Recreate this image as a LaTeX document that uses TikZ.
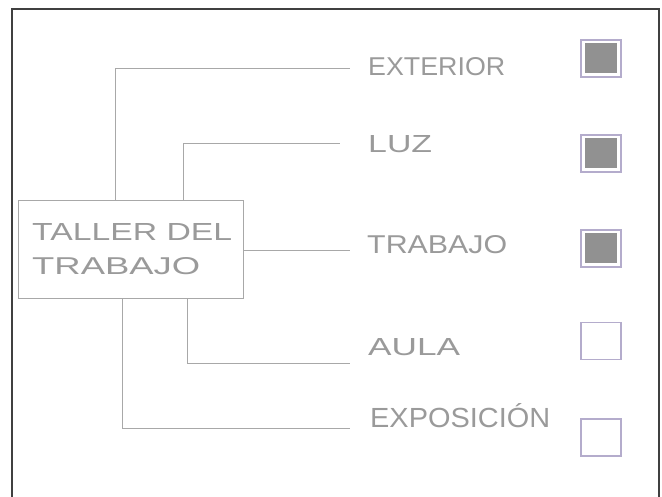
\documentclass[tikz,border=0pt]{standalone}
\usepackage{graphicx}
\usepackage{fontspec}
\setmainfont{Liberation Sans}
\definecolor{frame}{HTML}{404040}
\definecolor{wire}{HTML}{A8A8A8}
\definecolor{ink}{HTML}{9A9A9A}
\definecolor{boxedge}{HTML}{B4ACCC}
\definecolor{boxfill}{HTML}{919191}
\newcommand{\hw}[3]{\resizebox{#1pt}{#2pt}{#3}}
\tikzset{
  wireline/.style={draw=wire, line width=0.9pt},
  lbl/.style={anchor=west, text=ink, font=\fontsize{16}{18}\selectfont, inner sep=0pt},
  chk/.style={draw=boxedge, line width=1.2pt, minimum width=40pt, minimum height=37pt, inner sep=0pt},
  chkfill/.style={fill=boxfill, minimum width=32pt, minimum height=30pt, inner sep=0pt},
  mainbox/.style={draw=wire, line width=0.9pt, minimum width=225pt, minimum height=98pt, inner sep=0pt}
}
\begin{document}
\begin{tikzpicture}[x=1pt,y=-1pt]
\useasboundingbox (0,0) rectangle (662,497);
% frame
\draw[frame, line width=1.3pt] (12,497) -- (12,9) -- (659,9) -- (659,497);
% central box
\node[mainbox] (main) at (130.5,249) {};
\node[lbl] (maintxt1) at (32,232) {\hw{200}{17}{TALLER DEL}};
\node[lbl] (maintxt2) at (32,266) {\hw{168}{17}{TRABAJO}};
% labels
\node[lbl] (ext) at (368,67) {\hw{137}{18}{EXTERIOR}};
\node[lbl] (luz) at (368,144) {\hw{64}{17}{LUZ}};
\node[lbl] (tra) at (367,245) {\hw{140}{18}{TRABAJO}};
\node[lbl] (aul) at (368,347) {\hw{92}{17}{AULA}};
\node[lbl] (exp) at (370,416) {\hw{180}{24}{EXPOSICIÓN}};
% corner coordinates
\coordinate (c1) at (115,68);
\coordinate (c2) at (183,143);
\coordinate (c4) at (187,363);
\coordinate (c5) at (122,428);
\coordinate (e1) at (350,68);
\coordinate (e2) at (340,143);
\coordinate (e3) at (350,250);
\coordinate (e4) at (350,363);
\coordinate (e5) at (350,428);
% connectors
\draw[wireline] (main.north -| c1) -- (c1) -- (e1);
\draw[wireline] (main.north -| c2) -- (c2) -- (e2);
\draw[wireline] (main.east |- e3) -- (e3);
\draw[wireline] (main.south -| c4) -- (c4) -- (e4);
\draw[wireline] (main.south -| c5) -- (c5) -- (e5);
% check boxes
\node[chk] (k1) at (601,58.5) {};
\node[chkfill] at (k1) {};
\node[chk] (k2) at (601,153.5) {};
\node[chkfill] at (k2) {};
\node[chk] (k3) at (601,248.5) {};
\node[chkfill] at (k3) {};
\node[chk] (k4) at (601,341) {};
\node[chk] (k5) at (601,437.5) {};
\end{tikzpicture}
\end{document}
